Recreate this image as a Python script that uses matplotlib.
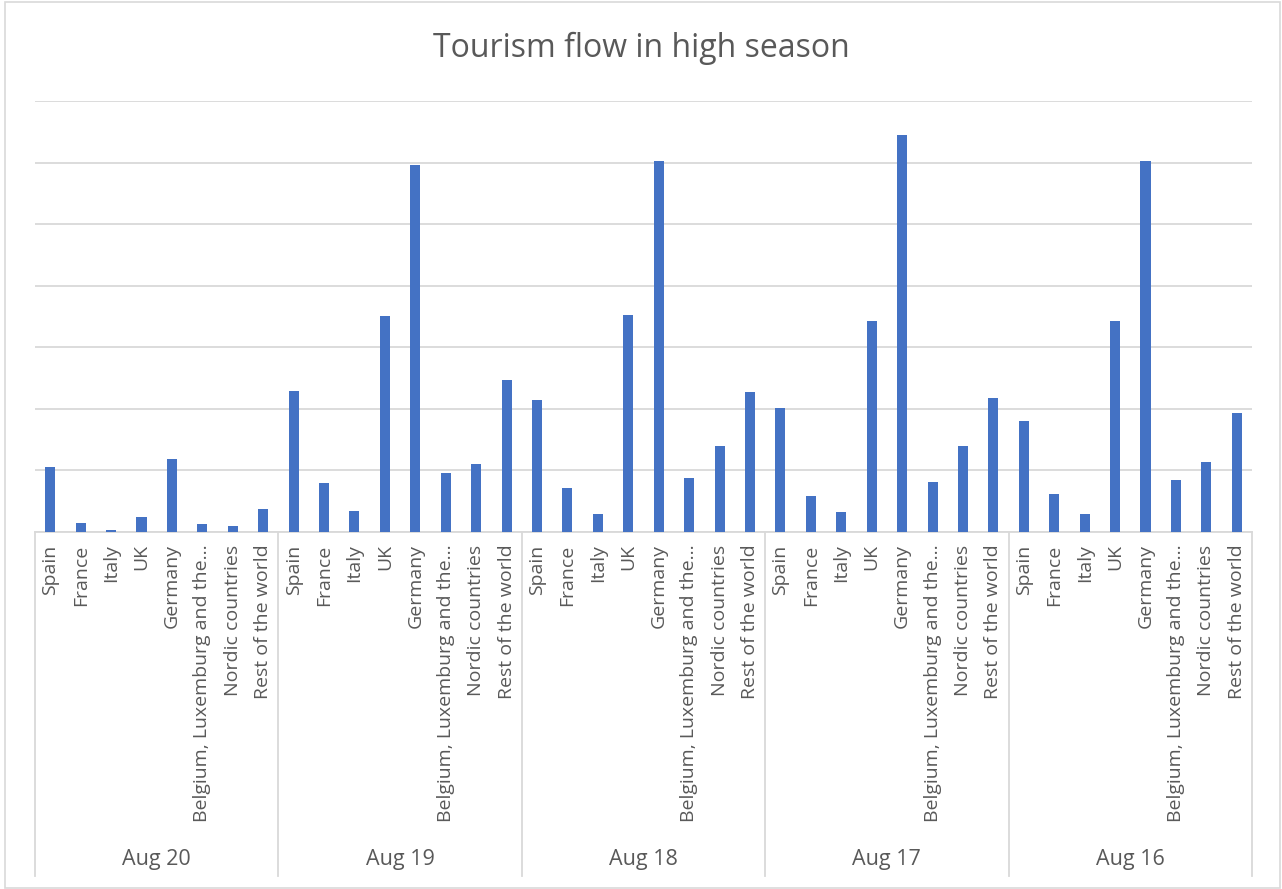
import matplotlib.pyplot as plt
from matplotlib.patches import Rectangle
from matplotlib.transforms import blended_transform_factory

plt.rcParams['font.family'] = ['Open Sans', 'DejaVu Sans']

periods = ['Aug 20', 'Aug 19', 'Aug 18', 'Aug 17', 'Aug 16']
countries = ['Spain', 'France', 'Italy', 'UK', 'Germany',
             'Belgium, Luxemburg and the\u2026', 'Nordic countries',
             'Rest of the world']

# visitors per origin, one list per period (thousands)
aug20 = [1.05, 0.15, 0.04, 0.25, 1.18, 0.13, 0.09, 0.37]
aug19 = [2.29, 0.80, 0.34, 3.51, 5.96, 0.96, 1.10, 2.47]
aug18 = [2.14, 0.71, 0.29, 3.52, 6.02, 0.88, 1.40, 2.27]
aug17 = [2.01, 0.58, 0.32, 3.43, 6.44, 0.81, 1.39, 2.17]
aug16 = [1.80, 0.62, 0.30, 3.43, 6.02, 0.84, 1.13, 1.93]

series = [aug20, aug19, aug18, aug17, aug16]

BLUE = '#4472C4'
GRID = '#D9D9D9'
TEXT = '#595959'

fig = plt.figure(figsize=(12.82, 8.89), dpi=100)
fig.patches.append(Rectangle((5 / 1282, 1 / 889), 1275 / 1282, 886 / 889,
                             transform=fig.transFigure, fill=False,
                             edgecolor=GRID, linewidth=1.2))

ax = fig.add_axes([35 / 1282, 1 - 532 / 889, 1217 / 1282, 431 / 889])

n = len(countries)
values = [v for group in series for v in group]
labels = countries * len(periods)
xs = list(range(len(values)))
ax.bar(xs, values, width=0.33, color=BLUE, zorder=3)

ax.set_xlim(-0.5, len(values) - 0.5)
ax.set_ylim(0, 7)
ax.set_yticks(range(0, 8))
ax.yaxis.grid(True, color=GRID, linewidth=1.3)
ax.tick_params(axis='y', length=0, labelleft=False)

ax.set_xticks(xs)
ax.set_xticklabels(labels, rotation=90, va='top', ha='center',
                   fontsize=14, color=TEXT)
ax.tick_params(axis='x', length=0, pad=9)

for side in ['left', 'right', 'top']:
    ax.spines[side].set_visible(False)
ax.spines['bottom'].set_color(GRID)
ax.spines['bottom'].set_linewidth(1.3)

# group separators and period labels under the category axis
trans = blended_transform_factory(ax.transData, ax.transAxes)
for i in range(len(periods) + 1):
    x = i * n - 0.5
    ax.plot([x, x], [0, -0.798], transform=trans, color=GRID,
            linewidth=1.3, clip_on=False)
for i, p in enumerate(periods):
    ax.text(i * n + (n - 1) / 2, -0.761, p, transform=trans, ha='center',
            va='center', fontsize=15.5, color=TEXT)

fig.text(0.5, 1 - 48 / 889, 'Tourism flow in high season', ha='center',
         va='center', fontsize=23, color=TEXT)

fig.savefig('out.png', dpi=100)
